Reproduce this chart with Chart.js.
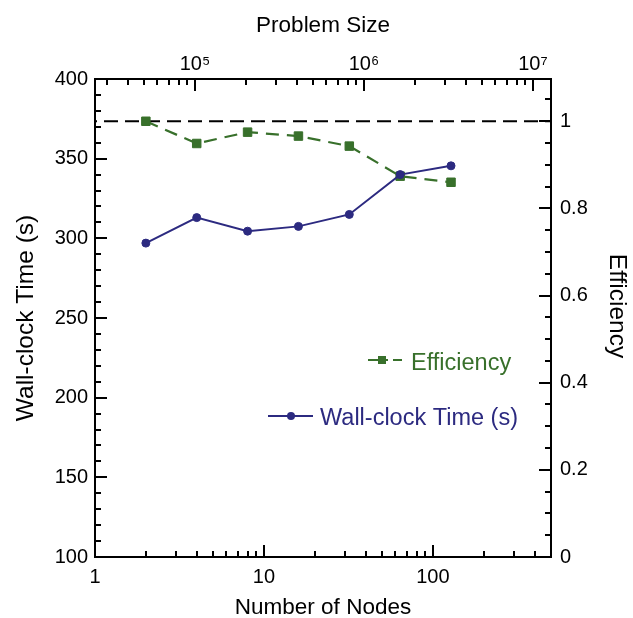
<!DOCTYPE html>
<html>
<head>
<meta charset="utf-8">
<script src="https://cdn.jsdelivr.net/npm/chart.js@4.4.1/dist/chart.umd.min.js"></script>
<style>
  html, body { margin: 0; padding: 0; background: #fff; }
  #wrap { width: 633px; height: 618px; }
</style>
</head>
<body>
<div id="wrap"><canvas id="chart" width="633" height="618"></canvas></div>
<script>
// Weak scaling data
const nodes = [2, 4, 8, 16, 32, 64, 128];
const wallTime = [297, 313, 304.5, 307.5, 315, 340, 345.5];
const efficiency = [1.0, 0.949, 0.975, 0.966, 0.943, 0.874, 0.860];

// ideal efficiency reference line
const idealNodes = [1, 500];
const idealEff = [1, 1];

// tick positions / labels
const nodeTicks = [1, 2, 3, 4, 5, 6, 7, 8, 9, 10, 20, 30, 40, 50, 60, 70, 80, 90, 100, 200, 300, 400];
const nodeLabels = [1, 10, 100];
const sizeTicks = [3e4, 4e4, 5e4, 6e4, 7e4, 8e4, 9e4, 1e5, 2e5, 3e5, 4e5, 5e5, 6e5, 7e5, 8e5, 9e5,
  1e6, 2e6, 3e6, 4e6, 5e6, 6e6, 7e6, 8e6, 9e6, 1e7];
const sizeLabelValues = [1e5, 1e6, 1e7];
const sizeLabels = ['10⁵', '10⁶', '10⁷'];
const timeLabels = [100, 150, 200, 250, 300, 350, 400];
const effLabels = [0, 0.2, 0.4, 0.6, 0.8, 1];

const BLUE = '#2c2a80';
const GREEN = '#38702b';
const FONT = "'Liberation Sans', Arial, Helvetica, sans-serif";

Chart.defaults.font.family = FONT;
Chart.defaults.color = '#000';

const near = (a, b) => Math.abs(a - b) < 1e-6;

// frame + inward tick marks (major ones longer)
const frameTicks = {
  id: 'frameTicks',
  afterDraw(chart) {
    const { ctx, chartArea: a, scales } = chart;
    ctx.save();
    ctx.strokeStyle = '#000';
    ctx.lineWidth = 2;
    ctx.setLineDash([]);
    ctx.beginPath();
    const mark = (scale, side) => {
      scale.ticks.forEach(t => {
        const len = t.label ? 12 : 6;
        const p = Math.round(scale.getPixelForValue(t.value));
        if (side === 'bottom') { ctx.moveTo(p, a.bottom); ctx.lineTo(p, a.bottom - len); }
        if (side === 'top') { ctx.moveTo(p, a.top); ctx.lineTo(p, a.top + len); }
        if (side === 'left') { ctx.moveTo(a.left, p); ctx.lineTo(a.left + len, p); }
        if (side === 'right') { ctx.moveTo(a.right, p); ctx.lineTo(a.right - len, p); }
      });
    };
    mark(scales.x, 'bottom');
    mark(scales.x2, 'top');
    mark(scales.y, 'left');
    mark(scales.y2, 'right');
    ctx.stroke();
    ctx.strokeRect(a.left, a.top, a.right - a.left, a.bottom - a.top);
    ctx.restore();
  }
};

// legend drawn inside the plot, plus the right axis title
const innerLegend = {
  id: 'innerLegend',
  afterDraw(chart) {
    const ctx = chart.ctx;
    ctx.save();
    ctx.font = '23.5px ' + FONT;
    ctx.textBaseline = 'alphabetic';
    ctx.textAlign = 'left';

    // Efficiency
    ctx.strokeStyle = GREEN;
    ctx.lineWidth = 2.2;
    ctx.setLineDash([20, 5]);
    ctx.beginPath(); ctx.moveTo(368, 360); ctx.lineTo(402, 360); ctx.stroke();
    ctx.setLineDash([]);
    ctx.fillStyle = GREEN;
    ctx.fillRect(378, 356, 8, 8);
    ctx.fillText('Efficiency', 411, 370);

    // Wall-clock
    ctx.strokeStyle = BLUE;
    ctx.lineWidth = 2;
    ctx.beginPath(); ctx.moveTo(268, 416); ctx.lineTo(313, 416); ctx.stroke();
    ctx.fillStyle = BLUE;
    ctx.beginPath(); ctx.arc(291, 416, 4, 0, Math.PI * 2); ctx.fill();
    ctx.fillText('Wall-clock Time (s)', 320, 425);

    // right axis title
    ctx.fillStyle = '#000';
    ctx.font = '24.5px ' + FONT;
    ctx.textAlign = 'center';
    ctx.textBaseline = 'middle';
    ctx.translate(617, 306);
    ctx.rotate(Math.PI / 2);
    ctx.fillText('Efficiency', 0, 0);
    ctx.restore();
  }
};

const hTitleFont = { size: 22.5 };
const vTitleFont = { size: 24.5 };
const tickFont = { size: 20 };

new Chart(document.getElementById('chart'), {
  type: 'line',
  data: {
    datasets: [
      {
        label: 'Wall-clock Time (s)',
        data: nodes.map((n, i) => ({ x: n, y: wallTime[i] })),
        xAxisID: 'x',
        yAxisID: 'y',
        borderColor: BLUE,
        backgroundColor: BLUE,
        borderWidth: 2,
        pointStyle: 'circle',
        pointRadius: 4,
        pointBorderWidth: 1,
        tension: 0
      },
      {
        label: 'Efficiency',
        data: nodes.map((n, i) => ({ x: n, y: efficiency[i] })),
        xAxisID: 'x',
        yAxisID: 'y2',
        borderColor: GREEN,
        backgroundColor: GREEN,
        borderWidth: 2.2,
        borderDash: [13, 8],
        pointStyle: 'rect',
        pointRadius: 6,
        pointBorderWidth: 1,
        tension: 0
      },
      {
        label: 'Ideal',
        data: idealNodes.map((n, i) => ({ x: n, y: idealEff[i] })),
        xAxisID: 'x',
        yAxisID: 'y2',
        borderColor: '#000',
        borderWidth: 1.8,
        borderDash: [14, 7],
        borderDashOffset: 12,
        pointRadius: 0,
        tension: 0
      }
    ]
  },
  options: {
    responsive: false,
    maintainAspectRatio: false,
    animation: false,
    layout: { padding: 0 },
    plugins: {
      legend: { display: false },
      tooltip: { enabled: false }
    },
    scales: {
      x: {
        type: 'logarithmic',
        position: 'bottom',
        min: 1,
        max: 500,
        grid: { display: true, drawOnChartArea: false, drawTicks: false },
        border: { display: false },
        afterBuildTicks: s => { s.ticks = nodeTicks.map(v => ({ value: v })); },
        afterFit: s => { s.height = 61; },
        ticks: {
          autoSkip: false, maxRotation: 0, padding: 8, font: tickFont,
          callback: v => nodeLabels.some(l => near(l, v)) ? String(v) : ''
        },
        title: { display: true, text: 'Number of Nodes', font: hTitleFont, padding: { top: 0, bottom: -3.5 } }
      },
      x2: {
        type: 'logarithmic',
        position: 'top',
        min: 25600,
        max: 12800000,
        grid: { display: true, drawOnChartArea: false, drawTicks: false },
        border: { display: false },
        afterBuildTicks: s => { s.ticks = sizeTicks.map(v => ({ value: v })); },
        afterFit: s => { s.height = 79; },
        ticks: {
          autoSkip: false, maxRotation: 0, padding: 3, font: tickFont,
          callback: v => {
            const i = sizeLabelValues.findIndex(l => Math.abs(l - v) < 1);
            return i >= 0 ? sizeLabels[i] : '';
          }
        },
        title: { display: true, text: 'Problem Size', font: hTitleFont, padding: { top: 11.8, bottom: 0 } }
      },
      y: {
        type: 'linear',
        position: 'left',
        min: 100,
        max: 400,
        grid: { display: true, drawOnChartArea: false, drawTicks: false },
        border: { display: false },
        afterFit: s => { s.width = 95; },
        ticks: {
          stepSize: 10, maxTicksLimit: 100, autoSkip: false, padding: 7, font: tickFont,
          callback: v => timeLabels.some(l => near(l, v)) ? String(v) : ''
        },
        title: { display: true, text: 'Wall-clock Time (s)', font: vTitleFont, padding: { top: 12, bottom: 0 } }
      },
      y2: {
        type: 'linear',
        position: 'right',
        min: 0,
        max: 1.097,
        grid: { display: true, drawOnChartArea: false, drawTicks: false },
        border: { display: false },
        afterFit: s => { s.width = 82; },
        ticks: {
          stepSize: 0.05, maxTicksLimit: 100, autoSkip: false, includeBounds: false, padding: 9, font: tickFont,
          callback: v => effLabels.some(l => near(l, v)) ? String(Math.round(v * 10) / 10) : ''
        },
        title: { display: false, text: 'Efficiency' }
      }
    }
  },
  plugins: [frameTicks, innerLegend]
});
</script>
</body>
</html>
